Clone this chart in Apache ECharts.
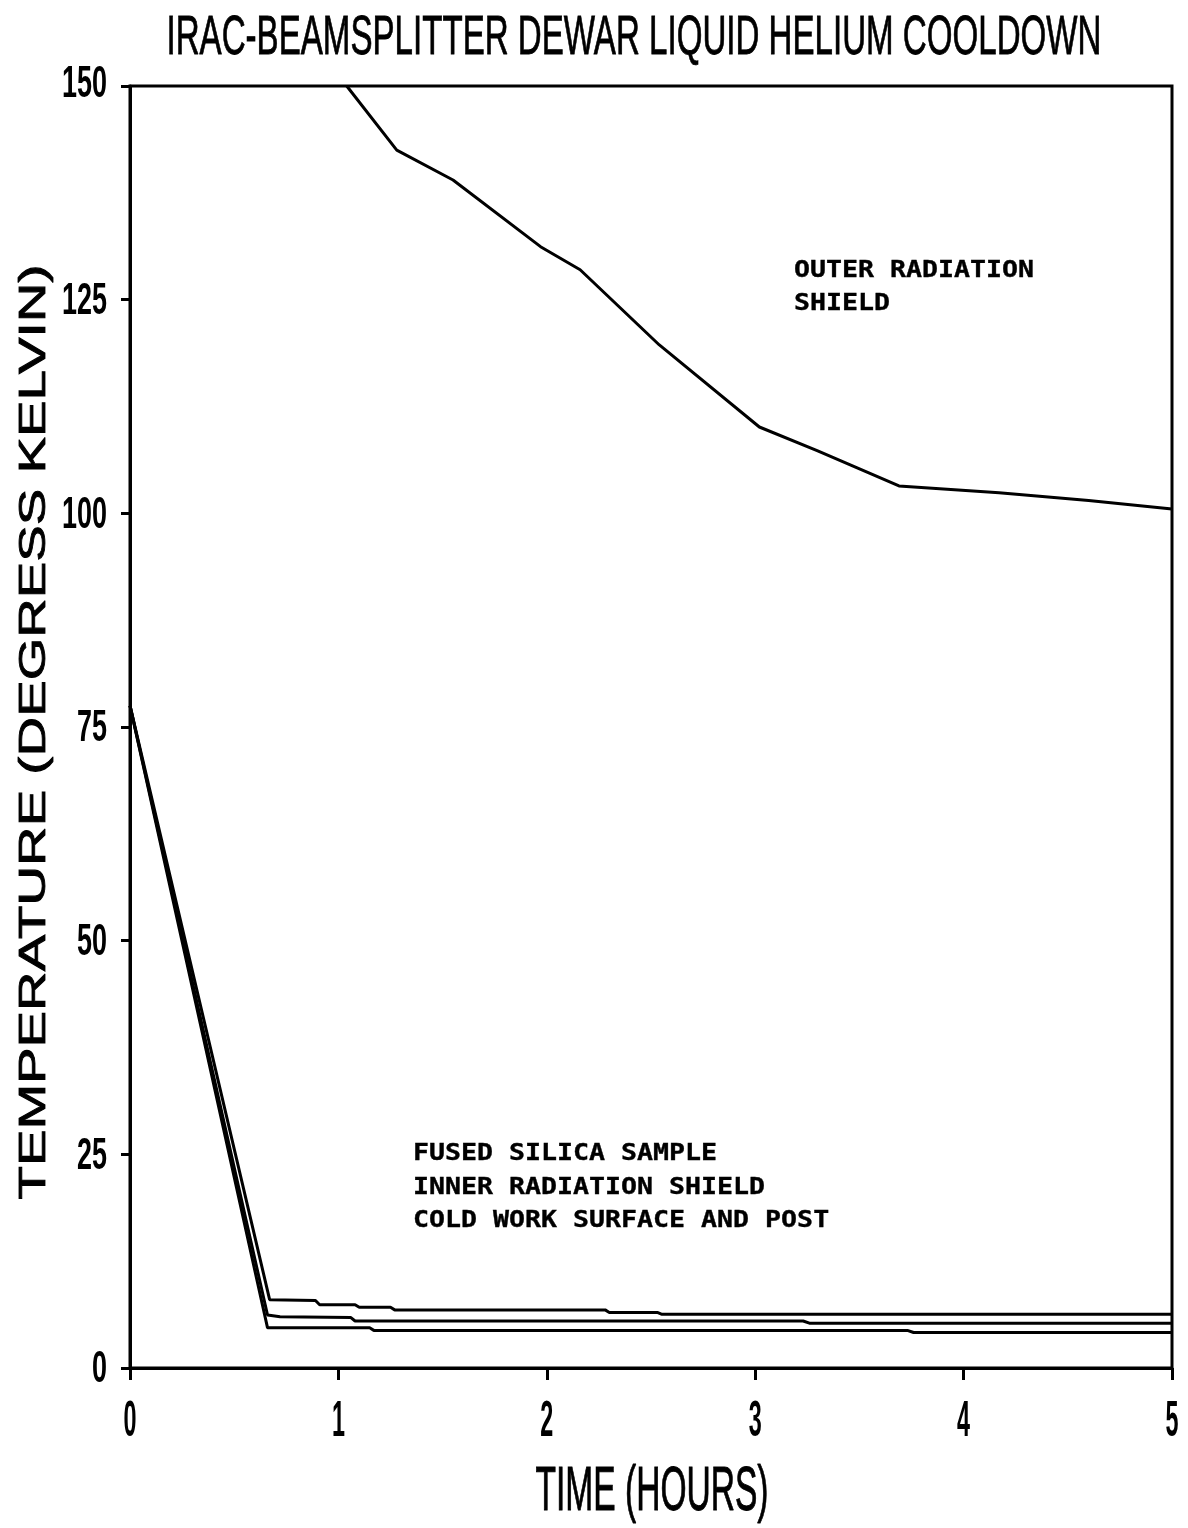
<!DOCTYPE html>
<html><head><meta charset="utf-8">
<script src="https://cdn.jsdelivr.net/npm/echarts@6/dist/echarts.min.js"></script>
<style>html,body{margin:0;padding:0;background:#fff}#c{width:1188px;height:1528px}</style>
</head><body><div id="c"></div>
<script>
// ---- text ----
const titleText = 'IRAC-BEAMSPLITTER DEWAR LIQUID HELIUM COOLDOWN';
const xAxisName = 'TIME (HOURS)';
const yAxisName = 'TEMPERATURE (DEGRESS KELVIN)';
const outerLabel = ['OUTER RADIATION', 'SHIELD'];
const lowerLabel = ['FUSED SILICA SAMPLE', 'INNER RADIATION SHIELD', 'COLD WORK SURFACE AND POST'];

// ---- ticks ----
const xTicks = [0, 1, 2, 3, 4, 5];
const yTicks = [0, 25, 50, 75, 100, 125, 150];

// ---- series (hours, kelvin) ----
const outerHours  = [1.04, 1.28, 1.55, 1.97, 2.16, 2.54, 3.02, 3.3, 3.69, 4.17, 4.6, 5.0];
const outerKelvin = [150, 142.5, 139.0, 131.2, 128.5, 119.7, 110.1, 107.3, 103.2, 102.4, 101.5, 100.5];

const silicaHours  = [0, 0.67, 0.89, 0.91, 1.08, 1.10, 1.25, 1.27, 2.28, 2.30, 2.53, 2.55, 5.0];
const silicaKelvin = [77.5, 8.0, 7.9, 7.4, 7.4, 7.1, 7.1, 6.8, 6.8, 6.5, 6.5, 6.3, 6.3];

const innerHours  = [0, 0.66, 0.72, 1.06, 1.08, 3.23, 3.26, 5.0];
const innerKelvin = [77.5, 6.2, 6.0, 5.9, 5.5, 5.5, 5.25, 5.25];

const coldHours  = [0, 0.66, 1.15, 1.17, 3.73, 3.76, 5.0];
const coldKelvin = [77.5, 4.7, 4.7, 4.4, 4.4, 4.15, 4.15];

function zip(a, b) { return a.map((v, i) => [v, b[i]]); }

const chart = echarts.init(document.getElementById('c'), null, { renderer: 'canvas' });
function mk(name, h, k, w) {
  return { name, type: 'line', data: zip(h, k), showSymbol: false, symbol: 'none',
    lineStyle: { color: '#000', width: w || 3 }, clip: true, animation: false, z: 3 };
}
chart.setOption({
  animation: false,
  backgroundColor: '#fff',
  grid: { left: 130, right: 16, top: 86, bottom: 160, show: true, borderColor: '#000', borderWidth: 3, backgroundColor: 'transparent' },
  xAxis: {
    type: 'value', min: 0, max: 5, interval: 1,
    axisLine: { show: true, lineStyle: { color: '#000', width: 3 } },
    axisTick: { show: true, length: 12, inside: false, lineStyle: { color: '#000', width: 3 } },
    axisLabel: { show: false }, splitLine: { show: false }
  },
  yAxis: {
    type: 'value', min: 0, max: 150, interval: 25,
    axisLine: { show: true, lineStyle: { color: '#000', width: 3 } },
    axisTick: { show: true, length: 9, inside: false, lineStyle: { color: '#000', width: 3 } },
    axisLabel: { show: false }, splitLine: { show: false }
  },
  series: [
    mk('Outer radiation shield', outerHours, outerKelvin, 3),
    mk('Fused silica sample', silicaHours, silicaKelvin, 3),
    mk('Inner radiation shield', innerHours, innerKelvin, 3),
    mk('Cold work surface and post', coldHours, coldKelvin, 3)
  ]
});

// ---- scaled text helpers ----
const mctx = document.createElement('canvas').getContext('2d');
function measure(text, font) { mctx.font = font; return mctx.measureText(text).width; }
function fitText(o) {
  const fs = 40;
  const font = (o.weight || 'normal') + ' ' + fs + 'px ' + o.family;
  const capRatio = o.capRatio || 0.716;
  const sy = o.capH / (capRatio * fs);
  const natW = measure(o.text, font);
  let sx;
  if (o.w) sx = o.w / natW; else sx = o.sx * sy;
  const rot = o.rotation || 0;
  const off = 0.045 * fs * sy;
  let x = o.x, y = o.y;
  if (rot) { x = o.x + off; } else { y = o.y + off; }
  const style = { text: o.text, fontFamily: o.family, fontSize: fs, fontWeight: o.weight || 'normal',
      fill: '#000', align: o.align || 'center', verticalAlign: 'middle' };
  if (o.stroke) { style.stroke = '#000'; style.lineWidth = o.stroke; }
  return { type: 'text', x, y, rotation: rot, scaleX: sx, scaleY: sy, z: 10, silent: true, style };
}

const g = [];
g.push(fitText({ text: titleText, family: 'Liberation Sans', weight: 'normal', capH: 40, w: 935, x: 634, y: 36, stroke: 0.6 }));
g.push(fitText({ text: xAxisName, family: 'Liberation Sans', weight: 'normal', capH: 45, w: 233, x: 652, y: 1490, stroke: 0.6 }));
g.push(fitText({ text: yAxisName, family: 'Liberation Sans', weight: 'normal', capH: 27, w: 935, x: 33, y: 732, rotation: Math.PI / 2, stroke: 0.9 }));

// tick labels from the tick arrays, positioned through the axis scale
xTicks.forEach(v => {
  const p = chart.convertToPixel({ gridIndex: 0 }, [v, 0]);
  const t = String(v);
  g.push(fitText({ text: t, family: 'Liberation Sans', weight: 'bold', capH: 36,
    w: 13 * t.length, x: p[0], y: 1420 }));
});
yTicks.forEach(v => {
  const p = chart.convertToPixel({ gridIndex: 0 }, [0, v]);
  const t = String(v);
  g.push(fitText({ text: t, family: 'Liberation Sans', weight: 'bold', capH: 32,
    w: 15 * t.length, x: 107, y: v === 150 ? p[1] - 3 : p[1], align: 'right' }));
});

// annotations
const monoFam = 'DejaVu Sans Mono';
outerLabel.forEach((t, i) => {
  g.push(fitText({ text: t, family: monoFam, weight: 'bold', capRatio: 0.729, capH: 17,
    sx: 1.14, x: 794, y: 270 + i * 33, align: 'left', stroke: 0.6 }));
});
lowerLabel.forEach((t, i) => {
  g.push(fitText({ text: t, family: monoFam, weight: 'bold', capRatio: 0.729, capH: 17,
    sx: 1.14, x: 413, y: 1153 + i * 33.5, align: 'left', stroke: 0.6 }));
});

chart.setOption({ graphic: { elements: g } });
</script>
</body></html>
